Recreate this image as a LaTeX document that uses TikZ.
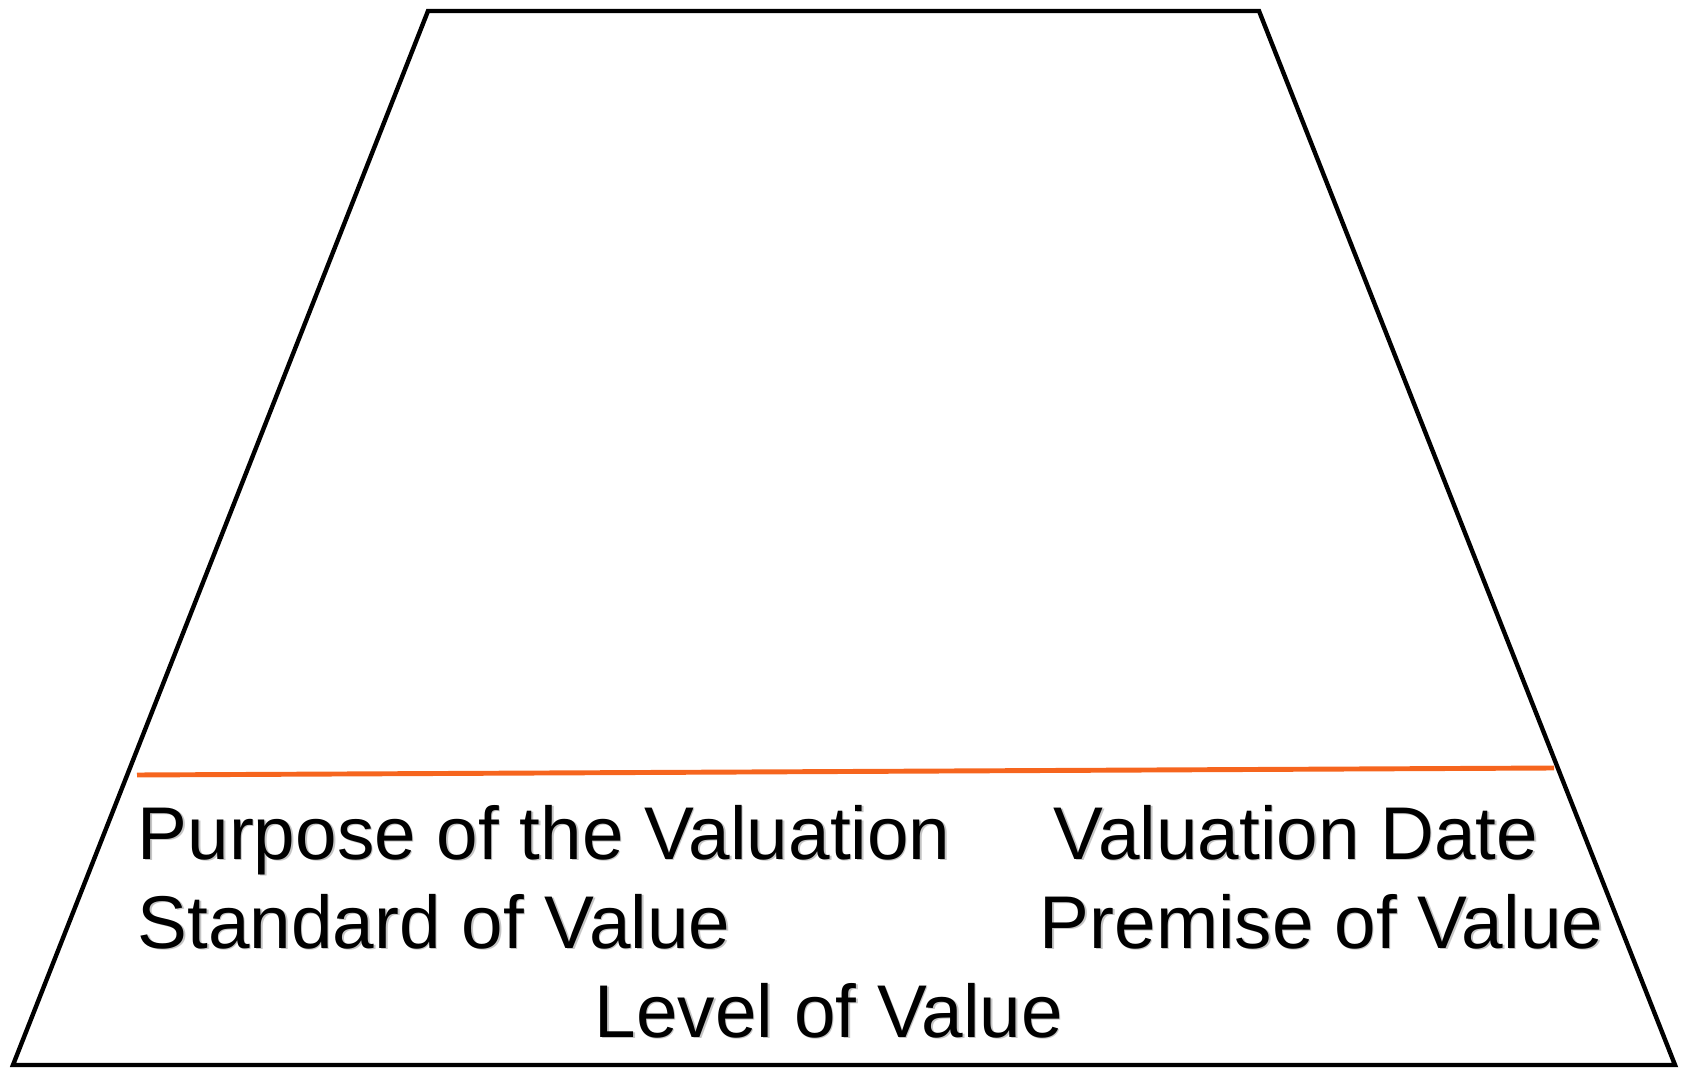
\documentclass[tikz,border=0pt]{standalone}
\usepackage{fontspec}
\setmainfont{Liberation Sans}
\definecolor{lineorange}{RGB}{246,101,30}
\tikzset{
  frame/.style={draw=black, line width=1.25pt},
  label/.style={anchor=base west, inner sep=0pt, font=\fontsize{21.25}{25}\selectfont},
  shade/.style={label, text=black!45, opacity=0.5}
}
\newcommand{\shadowtext}[3]{%
  \node[shade] at ($(#1)+(1.5,1.5)$) {#3};
  \node[label] (#2) at (#1) {#3};}
\usetikzlibrary{calc}
\begin{document}
\begin{tikzpicture}[x=0.01cm, y=-0.01cm]
    \useasboundingbox (0,0) rectangle (1683,1068);
    \draw[frame] (428,11) -- (1259,11) -- (1675,1065) -- (13,1065) -- cycle;
    \draw[lineorange, line width=1.4pt] (137,775) -- (1554,768);
    \shadowtext{137,859}{purpose}{Purpose of the Valuation}
    \shadowtext{1053,859}{date}{Valuation Date}
    \shadowtext{137,948}{standard}{Standard of Value}
    \shadowtext{1039,948}{premise}{Premise of Value}
    \shadowtext{594,1037}{level}{Level of Value}
  \end{tikzpicture}
\end{document}
